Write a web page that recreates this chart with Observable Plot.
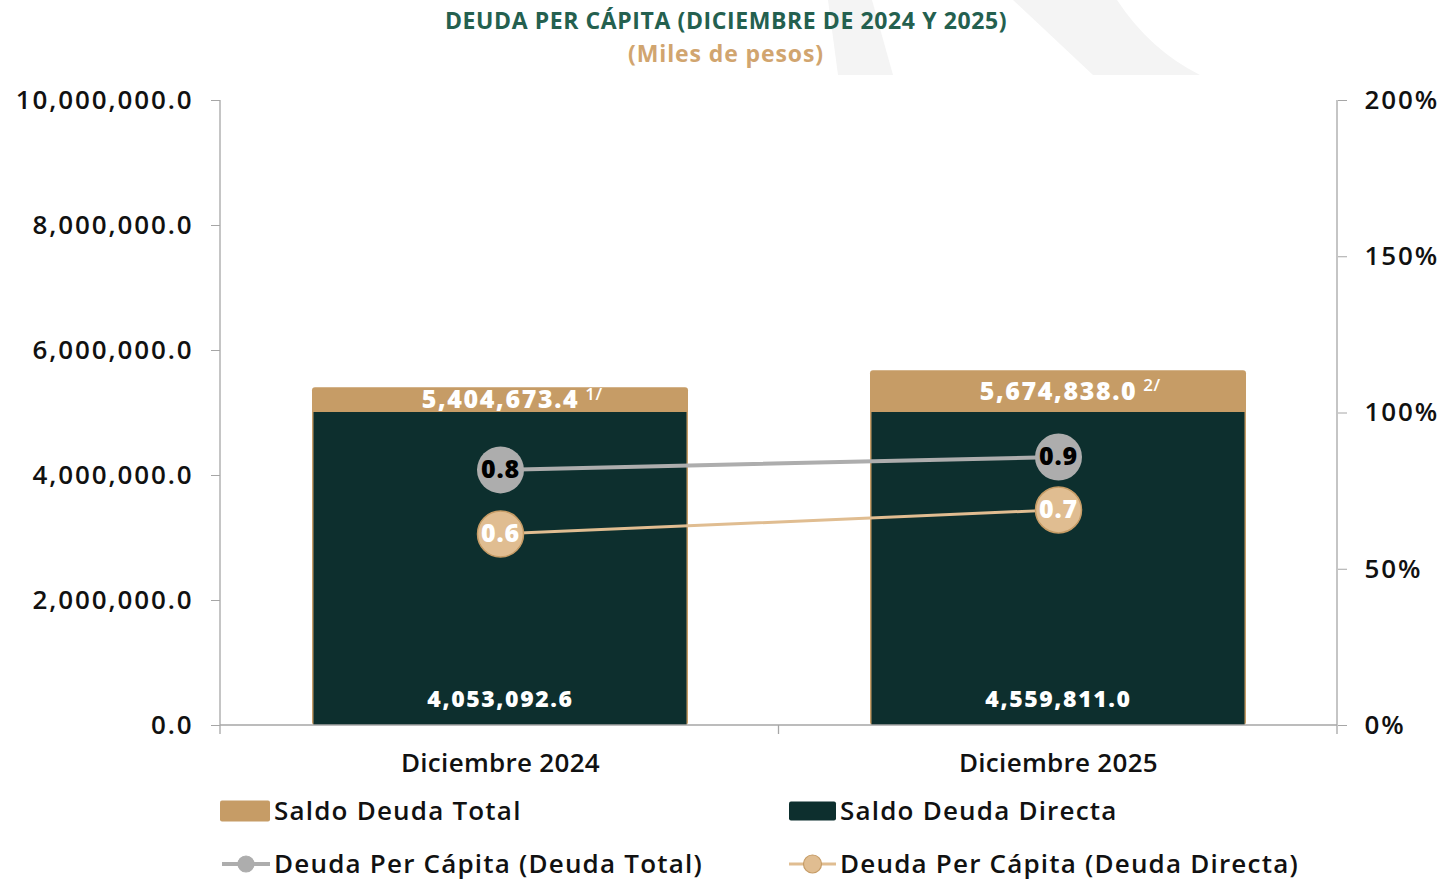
<!DOCTYPE html>
<html><head><meta charset="utf-8">
<script src="https://cdn.jsdelivr.net/npm/d3@7"></script>
<script src="https://cdn.jsdelivr.net/npm/@observablehq/plot@0.6"></script>
<style>
body{margin:0;background:#fff;width:1440px;height:880px;overflow:hidden;position:relative;font-family:"Open Sans",sans-serif;}
#wm{position:absolute;left:0;top:0;}
.t1{position:absolute;top:4px;left:0;width:1452px;text-align:center;font-weight:700;font-size:23px;color:#24604f;letter-spacing:0.6px;}
.t2{position:absolute;top:37px;left:0;width:1452px;text-align:center;font-weight:700;font-size:23px;color:#d1a56f;letter-spacing:0.9px;}
#chart{position:absolute;left:0;top:75px;}
.leg{position:absolute;font-size:26px;font-weight:600;color:#111;white-space:nowrap;line-height:30px;letter-spacing:1.2px;}
.sw{position:absolute;}
#chart svg [aria-label="y-axis tick label"] text{font-weight:600;letter-spacing:1.9px;}
#chart svg [aria-label="x-axis tick label"] text{font-weight:600;letter-spacing:0.3px;}
</style>
</head><body>
<svg id="wm" width="1440" height="75">
  <path d="M828,0 L872,0 L893,75 L838,75 Z" fill="#f4f4f4"/>
  <path d="M1013,0 L1117,0 Q1150,50 1200,75 L1093,75 Z" fill="#f4f4f4"/>
</svg>
<div class="t1">DEUDA PER CÁPITA (DICIEMBRE DE 2024 Y 2025)</div>
<div class="t2">(Miles de pesos)</div>
<div id="chart"></div>
<div id="legend"></div>
<script>
// ---- data ----
const categories = ["Diciembre 2024", "Diciembre 2025"];
const saldoDeudaTotal = [5404673.4, 5674838.0];
const saldoDeudaDirectaEtiqueta = [4053092.6, 4559811.0];
const saldoDeudaDirectaBarra = [5008000, 5008000]; // height of the dark bar as drawn
const perCapitaTotal = [0.818, 0.859];
const perCapitaDirecta = [0.613, 0.690];
const notas = ["1/", "2/"];
const leftTicks = [0, 2000000, 4000000, 6000000, 8000000, 10000000];
const rightTicks = [0, 0.5, 1, 1.5, 2];
const seriesNames = ["Saldo Deuda Total", "Saldo Deuda Directa", "Deuda Per Cápita (Deuda Total)", "Deuda Per Cápita (Deuda Directa)"];

// ---- colours ----
const cTan = "#c69c66", cDark = "#0d2f2e", cGray = "#adadad", cLightTan = "#e0bd91", cAxis = "#a6a6a6";

const rows = categories.map((c, i) => ({
  cat: c, total: saldoDeudaTotal[i], dirBar: saldoDeudaDirectaBarra[i], dirLabel: saldoDeudaDirectaEtiqueta[i],
  pcT: perCapitaTotal[i], pcD: perCapitaDirecta[i], nota: notas[i]
}));
const yMax = leftTicks[leftTicks.length - 1];
const k = yMax / rightTicks[rightTicks.length - 1]; // secondary axis mapping
const fmt1 = d3.format(",.1f");

const chart = Plot.plot({
  width: 1440, height: 710,
  marginLeft: 220, marginRight: 103, marginTop: 25, marginBottom: 60,
  style: {fontFamily: "'Open Sans', sans-serif", fontSize: "26px", color: "#111", background: "transparent", overflow: "visible"},
  x: {domain: categories, paddingInner: 0.327, paddingOuter: 0.1635, label: null},
  y: {domain: [0, yMax], label: null},
  marks: [
    Plot.barY(rows, {x: "cat", y: "total", fill: cTan, rx: 3}),
    Plot.barY(rows, {x: "cat", y: "dirBar", fill: cDark, insetLeft: 1.5, insetRight: 1.5}),
    Plot.axisY({anchor: "left", ticks: leftTicks, tickFormat: fmt1, tickSize: 9, tickPadding: 18, label: null, stroke: cAxis, fill: "#111"}),
    Plot.axisY({anchor: "right", ticks: rightTicks.map(v => v * k), tickFormat: d => Math.round(d / k * 100) + "%", tickSize: 9, tickPadding: 18, label: null, stroke: cAxis, fill: "#111"}),
    Plot.axisX({tickSize: 0, tickPadding: 28, label: null, fill: "#111"}),
    Plot.line(rows, {x: "cat", y: d => d.pcT * k, stroke: cGray, strokeWidth: 4}),
    Plot.line(rows, {x: "cat", y: d => d.pcD * k, stroke: cLightTan, strokeWidth: 3}),
    Plot.dot(rows, {x: "cat", y: d => d.pcT * k, r: 23.5, fill: cGray}),
    Plot.dot(rows, {x: "cat", y: d => d.pcD * k, r: 23, fill: cLightTan, stroke: cTan, strokeWidth: 1.5}),
    Plot.text(rows, {x: "cat", y: d => d.pcT * k, text: d => d3.format(".1f")(d.pcT), fill: "#000", fontWeight: 800, fontSize: 25}),
    Plot.text(rows, {x: "cat", y: d => d.pcD * k, text: d => d3.format(".1f")(d.pcD), fill: "#fff", fontWeight: 800, fontSize: 25}),
    Plot.text(rows, {x: "cat", y: d => (d.total + d.dirBar) / 2, text: d => fmt1(d.total), fill: "#fff", fontWeight: 800, fontSize: 25}),
    Plot.text(rows, {x: "cat", y: 0, dy: -26, text: d => fmt1(d.dirLabel), fill: "#fff", fontWeight: 800, fontSize: 23})
  ]
});
document.getElementById("chart").appendChild(chart);

const svg = d3.select(chart);
// letter spacing for value labels
const textGroups = svg.selectAll('g[aria-label="text"]').nodes();
textGroups.forEach((gr, j) => d3.select(gr).style("letter-spacing", j < 2 ? "0.8px" : "1.6px"));

// axis lines and category boundary ticks, through the plot's scales
const xs = chart.scale("x"), ys = chart.scale("y");
const [x0, x1] = xs.range, [yb, yt] = ys.range;
const g = svg.append("g").attr("stroke", cAxis).attr("stroke-width", 1.3);
g.append("line").attr("x1", x0).attr("x2", x0).attr("y1", yt).attr("y2", yb + 9);
g.append("line").attr("x1", x1).attr("x2", x1).attr("y1", yt).attr("y2", yb + 9);
g.append("line").attr("x1", x0).attr("x2", x1).attr("y1", yb).attr("y2", yb);
const n = categories.length;
for (let i = 1; i < n; i++) {
  const xb = x0 + (x1 - x0) * i / n;
  g.append("line").attr("x1", xb).attr("x2", xb).attr("y1", yb).attr("y2", yb + 9);
}

// footnote superscripts next to total labels (third text mark)
d3.select(textGroups[2]).selectAll("text").each(function(_, i) {
  const bb = this.getBBox();
  d3.select(this).append("tspan").attr("x", bb.x + bb.width + 6).attr("dy", "-0.5em")
    .style("text-anchor", "start").style("letter-spacing", "0.5px")
    .attr("font-size", 17).attr("font-weight", 600).text(notas[i]);
});

// legend
const L = document.getElementById("legend");
const items = [
  {name: seriesNames[0], type: "bar", color: cTan, x: 220, y: 811, w: 50, h: 21},
  {name: seriesNames[1], type: "bar", color: cDark, x: 789, y: 811, w: 47, h: 19},
  {name: seriesNames[2], type: "line", color: cGray, stroke: cGray, line: cGray, x: 222, y: 864, w: 48, r: 8, sw: 4},
  {name: seriesNames[3], type: "line", color: cLightTan, stroke: cTan, line: cLightTan, x: 789, y: 864, w: 47, r: 9, sw: 3}
];
items.forEach(it => {
  const s = document.createElementNS("http://www.w3.org/2000/svg", "svg");
  s.setAttribute("class", "sw");
  s.setAttribute("width", it.w + 4); s.setAttribute("height", 26);
  s.style.left = it.x + "px"; s.style.top = (it.y - 13) + "px";
  if (it.type === "bar") {
    s.innerHTML = `<rect x="0" y="${13 - it.h / 2}" width="${it.w}" height="${it.h}" rx="2" fill="${it.color}"/>`;
  } else {
    s.innerHTML = `<line x1="0" x2="${it.w}" y1="13" y2="13" stroke="${it.line}" stroke-width="${it.sw}"/>` +
      `<circle cx="${it.w / 2}" cy="13" r="${it.r}" fill="${it.color}" stroke="${it.stroke}" stroke-width="1.2"/>`;
  }
  L.appendChild(s);
  const t = document.createElement("div");
  t.className = "leg"; t.textContent = it.name;
  t.style.left = (it.x + it.w + 4) + "px"; t.style.top = (it.y - 16) + "px";
  L.appendChild(t);
});
</script>
</body></html>
